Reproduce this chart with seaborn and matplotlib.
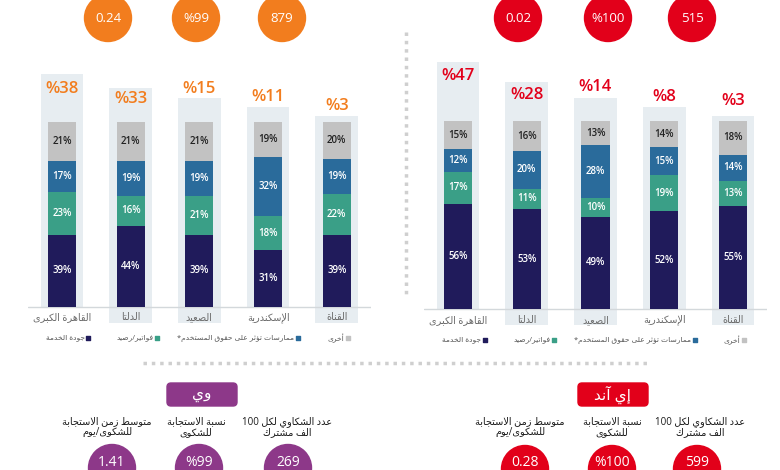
import re
import numpy as np
import pandas as pd
import matplotlib
matplotlib.use('Agg')
import matplotlib.pyplot as plt
from matplotlib.patches import Circle, FancyBboxPatch
import seaborn as sns

# Data
regions = ['القاهرة الكبرى', 'الدلتا', 'الصعيد', 'الإسكندرية', 'القناة']
layers = ['جودة الخدمة', 'فواتير/رصيد', 'ممارسات تؤثر على حقوق المستخدم*', 'أخرى']

orange_share = ['%38', '%33', '%15', '%11', '%3']
orange_service = [39, 44, 39, 31, 39]
orange_bills = [23, 16, 21, 18, 22]
orange_rights = [17, 19, 19, 32, 19]
orange_other = [21, 21, 21, 19, 20]

eand_share = ['%47', '%28', '%14', '%8', '%3']
eand_service = [56, 53, 49, 52, 55]
eand_bills = [17, 11, 10, 19, 13]
eand_rights = [12, 20, 28, 15, 14]
eand_other = [15, 16, 13, 14, 18]

orange_kpi = ['0.24', '%99', '879']
eand_top_kpi = ['0.02', '%100', '515']
we_kpi = ['1.41', '%99', '269']
eand_kpi = ['0.28', '%100', '599']
kpi_labels = ['متوسط زمن الاستجابة\nللشكوى/يوم', 'نسبة الاستجابة\nللشكوى', 'عدد الشكاوي لكل 100\nالف مشترك']

# Colours / layout
NAVY, GREEN, BLUE, GREY = '#201b5b', '#3a9f87', '#2a6b9b', '#c2c2c2'
BOX = '#e7edf1'
ORANGE, RED, PURPLE = '#f27d1e', '#e2001a', '#8d3889'
seg_colors = [NAVY, GREEN, BLUE, GREY]
label_bg = [False, True, True, False, True]

# Arabic shaping (matplotlib has no RTL / joining support)
FORMS = {
    'ء': (0xFE80, 1), 'آ': (0xFE81, 2), 'أ': (0xFE83, 2), 'ؤ': (0xFE85, 2),
    'إ': (0xFE87, 2), 'ئ': (0xFE89, 4), 'ا': (0xFE8D, 2), 'ب': (0xFE8F, 4),
    'ة': (0xFE93, 2), 'ت': (0xFE95, 4), 'ث': (0xFE99, 4), 'ج': (0xFE9D, 4),
    'ح': (0xFEA1, 4), 'خ': (0xFEA5, 4), 'د': (0xFEA9, 2), 'ذ': (0xFEAB, 2),
    'ر': (0xFEAD, 2), 'ز': (0xFEAF, 2), 'س': (0xFEB1, 4), 'ش': (0xFEB5, 4),
    'ص': (0xFEB9, 4), 'ض': (0xFEBD, 4), 'ط': (0xFEC1, 4), 'ظ': (0xFEC5, 4),
    'ع': (0xFEC9, 4), 'غ': (0xFECD, 4), 'ف': (0xFED1, 4), 'ق': (0xFED5, 4),
    'ك': (0xFED9, 4), 'ل': (0xFEDD, 4), 'م': (0xFEE1, 4), 'ن': (0xFEE5, 4),
    'ه': (0xFEE9, 4), 'و': (0xFEED, 2), 'ى': (0xFEEF, 2), 'ي': (0xFEF1, 4),
}
LAM_ALEF = {'ا': 0xFEFB, 'أ': 0xFEF7, 'إ': 0xFEF9, 'آ': 0xFEF5}


def shape(line):
    chars = []
    i = 0
    while i < len(line):
        if line[i] == 'ل' and i + 1 < len(line) and line[i + 1] in LAM_ALEF:
            chars.append(('LA', line[i + 1]))
            i += 2
        else:
            chars.append((line[i], None))
            i += 1
    out = []
    for k, (c, alef) in enumerate(chars):
        prev = chars[k - 1][0] if k > 0 else None
        nxt = chars[k + 1][0] if k + 1 < len(chars) else None
        joins_prev = prev in FORMS and FORMS[prev][1] == 4
        if c == 'LA':
            out.append(chr(LAM_ALEF[alef] + (1 if joins_prev else 0)))
            continue
        if c not in FORMS:
            out.append(c)
            continue
        start, n = FORMS[c]
        joins_next = n == 4 and (nxt == 'LA' or (nxt in FORMS and FORMS[nxt][1] > 1))
        if n == 1:
            form = 0
        elif joins_prev and joins_next:
            form = 3
        elif joins_next:
            form = 2
        elif joins_prev:
            form = 1
        else:
            form = 0
        out.append(chr(start + form))
    s = ''.join(out)
    runs = re.findall(r'[0-9A-Za-z.]+|[^0-9A-Za-z.]+', s)
    return ''.join(r if re.match(r'[0-9A-Za-z.]', r) else r[::-1] for r in reversed(runs))


def ar(text):
    return '\n'.join(shape(l) for l in text.split('\n'))


sns.set_style('white')
plt.rcParams['font.family'] = ['Open Sans', 'DejaVu Sans']

fig = plt.figure(figsize=(7.8, 4.7), dpi=100)
deco = fig.add_axes([0, 0, 1, 1], zorder=0)
deco.set_xlim(0, 780)
deco.set_ylim(470, 0)
deco.axis('off')


def draw_panel(rect, series, share, box_top, share_y, accent):
    ax = fig.add_axes(rect, zorder=2)
    ax.patch.set_alpha(0)
    xs = np.arange(len(regions))
    bottoms = np.array([-8.5 if b else 0 for b in label_bg])
    ax.bar(xs, np.array(box_top) - bottoms, bottom=bottoms, width=0.62, color=BOX,
           linewidth=0, zorder=0)

    vals = np.array(series)
    cum = np.cumsum(vals, axis=0)
    df = pd.DataFrame({
        'region': np.tile(regions, len(layers)),
        'layer': np.repeat(layers, len(regions)),
        'level': cum.ravel(),
    })
    sns.barplot(data=df, x='region', y='level', hue='layer', hue_order=layers[::-1],
                palette=seg_colors[::-1], dodge=False, width=0.41, saturation=1,
                linewidth=0, legend=False, ax=ax, zorder=2)

    for i in range(len(layers)):
        for j in range(len(regions)):
            y = cum[i, j] - vals[i, j] / 2
            ax.text(j, y, f'{vals[i, j]}%', ha='center', va='center', fontsize=7,
                    color='#222222' if i == 3 else 'white', fontweight='semibold', zorder=5)
    for j in range(len(regions)):
        ax.text(j, share_y[j], share[j], ha='center', va='center', fontsize=12,
                color=accent, fontweight='semibold', zorder=5)
        ax.text(j, -5.9, ar(regions[j]), ha='center', va='center', fontsize=7,
                color='#6b6b6b', zorder=5)
    ax.axhline(0, color='#d3d8db', lw=1, zorder=1)
    ax.set_xlim(-0.5, len(regions) - 0.5)
    ax.set_ylim(-10, 135)
    ax.axis('off')
    return ax


draw_panel([0.0354, 0.3074, 0.4404, 0.5707],
           [orange_service, orange_bills, orange_rights, orange_other],
           orange_share, [126, 118.4, 113, 108, 103],
           [117.8, 112.4, 117.8, 113.5, 108.6], ORANGE)
draw_panel([0.5431, 0.3026, 0.4407, 0.58],
           [eand_service, eand_bills, eand_rights, eand_other],
           eand_share, [131.4, 120.7, 112.2, 107.4, 102.7],
           [124, 113.8, 118, 112.8, 110.6], RED)

# Legends
for sq_x, y in [([88, 157, 298, 348], 338), ([485, 554, 695, 744], 340)]:
    for x, lab, c in zip(sq_x, layers, seg_colors):
        deco.scatter(x, y, marker='s', s=8, color=c, zorder=3)
        deco.text(x - 3.5, y, ar(lab), ha='right', va='center', fontsize=5.4, color='#555555')

# Dotted separators
deco.plot([406, 406], [32, 298], color='#cfcfcf', lw=2.5, ls=(0, (1, 1.4)))
deco.plot([143, 648], [363, 363], color='#cfcfcf', lw=2.5, ls=(0, (1, 1.4)))


def kpi_circles(xs, y, values, color, size=9.5, text_dy=0):
    for x, v in zip(xs, values):
        deco.add_patch(Circle((x, y), 23.5, color=color, zorder=2))
        deco.text(x, y + text_dy, v, ha='center', va='center', color='white', fontsize=size,
                  zorder=3)


kpi_circles([108, 196, 282], 18, orange_kpi, ORANGE)
kpi_circles([518, 608, 692], 18, eand_top_kpi, RED)
kpi_circles([112, 199, 288], 468, we_kpi, PURPLE, 10, -6)
kpi_circles([525, 612, 697], 469, eand_kpi, RED, 10, -6)

# Operator pills
for x, name, color in [(167, 'وي', PURPLE), (578, 'إي آند', RED)]:
    deco.add_patch(FancyBboxPatch((x, 383), 70, 23, boxstyle='round,pad=0,rounding_size=4',
                                  color=color, zorder=2))
    deco.text(x + 35, 394.5, ar(name), ha='center', va='center', color='white',
              fontsize=11, zorder=3)

for xs in [[107, 196, 287], [520, 612, 700]]:
    for x, lab in zip(xs, kpi_labels):
        deco.text(x, 427, ar(lab), ha='center', va='center', fontsize=7,
                  color='#1a1a1a', linespacing=1.05)

fig.savefig('out.png', dpi=100)
